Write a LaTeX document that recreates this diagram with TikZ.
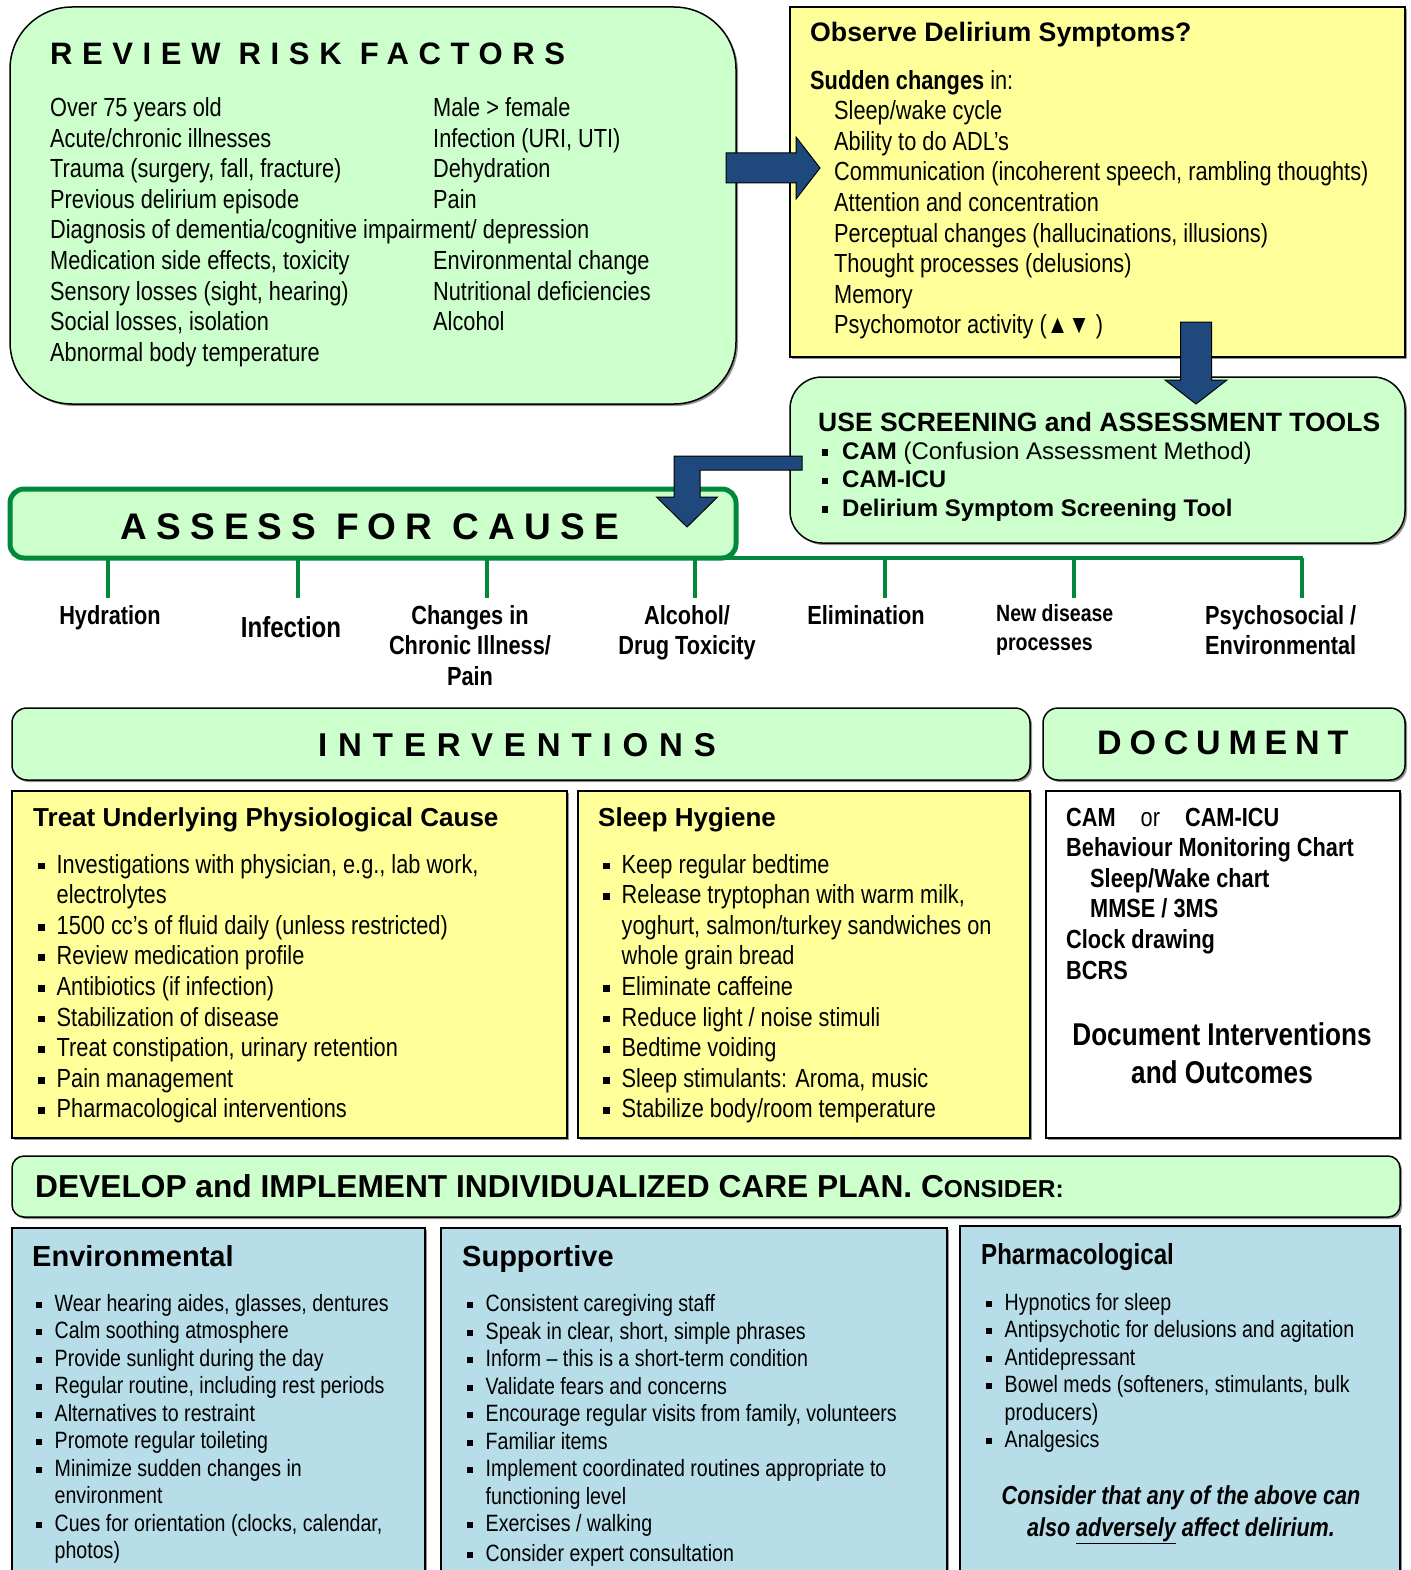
\documentclass[tikz,border=0pt]{standalone}
\usepackage{fontspec}
\setmainfont{Liberation Sans}
\newfontfamily\narrowfont[FakeStretch=0.83]{Liberation Sans}
\usetikzlibrary{calc,shadows}

\definecolor{riskgreen}{HTML}{CCFFCC}
\definecolor{noteyellow}{HTML}{FFFF99}
\definecolor{planblue}{HTML}{B7DDE8}
\definecolor{causegreen}{HTML}{00893D}
\definecolor{arrowblue}{HTML}{1F497D}

\newcommand\setfs[2]{\fontsize{#1pt}{#2pt}\selectfont}
\newcommand\bul[1][18.5pt]{\makebox[#1][l]{\raisebox{.14em}{\rule{.26em}{.26em}}}}
\newcommand\cont{\hspace*{18.5pt}}

\newcommand\blockright[2]{\draw[blockarrow] let \p1=(#1), \p2=(#2) in
  (\x1,\y1+15pt) -- (\x2-24pt,\y1+15pt) -- (\x2-24pt,\y1+31pt) -- (\x2,\y1)
  -- (\x2-24pt,\y1-31pt) -- (\x2-24pt,\y1-15pt) -- (\x1,\y1-15pt) -- cycle;}
\newcommand\blockdown[2]{\draw[blockarrow] let \p1=(#1), \p2=(#2) in
  (\x1-15.5pt,\y1) -- (\x1-15.5pt,\y2+24pt) -- (\x1-31pt,\y2+24pt) -- (\x1,\y2)
  -- (\x1+31pt,\y2+24pt) -- (\x1+15.5pt,\y2+24pt) -- (\x1+15.5pt,\y1) -- cycle;}

\tikzset{
  panel/.style={draw=black, line width=1.5pt, anchor=north west, inner sep=0pt, outer sep=0pt,
    drop shadow={shadow xshift=2pt, shadow yshift=-2pt, fill=black!60, opacity=.7}},
  greenpanel/.style={panel, fill=riskgreen},
  yellowpanel/.style={panel, fill=noteyellow},
  bluepanel/.style={panel, fill=planblue},
  whitepanel/.style={panel, fill=white},
  body/.style={anchor=base west, inner sep=0pt, align=left, font=\narrowfont\setfs{26.2}{30.6}},
  smallbody/.style={body, font=\narrowfont\setfs{23.6}{27.5}},
  head/.style={anchor=base west, inner sep=0pt, font=\bfseries\setfs{26}{30}},
  causelabel/.style={anchor=base, inner sep=0pt, align=center, font=\narrowfont\bfseries\setfs{26.2}{30.6}},
  causeline/.style={draw=causegreen, line width=4pt},
  blockarrow/.style={draw=black, line width=1pt, fill=arrowblue, line join=miter},
}

\begin{document}
\begin{tikzpicture}[x=1pt, y=-1pt]
\useasboundingbox (0,0) rectangle (1410,1570);

% risk factors (multi-line texts sit on the baseline of their last line)
\node[greenpanel, rounded corners=62pt, minimum width=726pt, minimum height=397pt] (risk) at (10,7) {};
\node[anchor=base west, inner sep=0pt, font=\bfseries\setfs{31}{36}\addfontfeatures{LetterSpace=31}] (risktitle) at (50,65) {REVIEW RISK FACTORS};
\node[body] (riskleft) at (50,361.3) {Over 75 years old\\ Acute/chronic illnesses\\ Trauma (surgery, fall, fracture)\\ Previous delirium episode\\
  Diagnosis of dementia/cognitive impairment/ depression\\ Medication side effects, toxicity\\ Sensory losses (sight, hearing)\\
  Social losses, isolation\\ Abnormal body temperature};
\node[body] (riskright) at (433,330.7) {Male > female\\ Infection (URI, UTI)\\ Dehydration\\ Pain\\ \mbox{}\\ Environmental change\\
  Nutritional deficiencies\\ Alcohol};

% symptoms
\node[yellowpanel, minimum width=615pt, minimum height=350pt] (observe) at (790,7) {};
\node[head, font=\bfseries\setfs{26.7}{30}] (observetitle) at (810,42) {Observe Delirium Symptoms?};
\node[body] (symptoms) at (810,333.8) {{\bfseries Sudden changes} in:\\ \hspace*{24pt}Sleep/wake cycle\\ \hspace*{24pt}Ability to do ADL’s\\
  \hspace*{24pt}Communication (incoherent speech, rambling thoughts)\\ \hspace*{24pt}Attention and concentration\\
  \hspace*{24pt}Perceptual changes (hallucinations, illusions)\\ \hspace*{24pt}Thought processes (delusions)\\
  \hspace*{24pt}Memory\\ \hspace*{24pt}Psychomotor activity (▲▼ )};

% screening tools
\node[greenpanel, rounded corners=32pt, minimum width=615pt, minimum height=166pt] (tools) at (790,377) {};
\node[head, font=\bfseries\setfs{26.5}{30}] (toolstitle) at (818,431) {USE SCREENING and ASSESSMENT TOOLS};
\node[body, font=\setfs{24}{28.5}] (toollist) at (822,516) {\bul[20pt]{\bfseries CAM} (Confusion Assessment Method)\\
  \bul[20pt]{\bfseries CAM-ICU}\\ \bul[20pt]{\bfseries Delirium Symptom Screening Tool}};

\coordinate (symin) at ($(risk.north east)+(-10,161)$);
\coordinate (symout) at ($(observe.north west)+(30,161)$);
\blockright{symin}{symout}
\coordinate (toolin) at ($(observe.south west)+(406,-35)$);
\coordinate (toolout) at ($(tools.north west)+(406,27)$);
\blockdown{toolin}{toolout}

% assess for cause
\node[anchor=north west, draw=causegreen, line width=5pt, fill=riskgreen, rounded corners=14pt, inner sep=0pt, outer sep=0pt,
  minimum width=726pt, minimum height=69pt] (assess) at (10,489) {};
\node[anchor=base west, inner sep=0pt, font=\bfseries\setfs{37}{40}\addfontfeatures{LetterSpace=25}] (assesstitle) at (120,539) {ASSESS FOR CAUSE};
\draw[causeline] (assess.south) -- ($(assess.south east)+(567,0)$) coordinate (barend);
\foreach \x in {108,298,487,695,885,1074,1302}
  \draw[causeline] (\x,558) -- (\x,598);
\coordinate (causein) at ($(tools.west)+(12,3)$);
\coordinate (causeout) at ($(assess.north east)+(-49,38)$);
\draw[blockarrow] let \p1=(causein), \p2=(causeout) in
  (\x1,\y1+7pt) -- (\x2-13pt,\y1+7pt) -- (\x2-13pt,\y2+30pt) -- (\x2-30.5pt,\y2+30pt) -- (\x2,\y2)
  -- (\x2+30.5pt,\y2+30pt) -- (\x2+13pt,\y2+30pt) -- (\x2+13pt,\y1-7pt) -- (\x1,\y1-7pt) -- cycle;

\node[causelabel] (hydration) at (110,624) {Hydration};
\node[causelabel, font=\narrowfont\bfseries\setfs{29}{32}] (infection) at (291,637) {Infection};
\node[causelabel] (chronic) at (470,685.2) {Changes in\\ Chronic Illness/\\ Pain};
\node[causelabel] (toxicity) at (687,654.6) {Alcohol/\\ Drug Toxicity};
\node[causelabel] (elimination) at (866,624) {Elimination};
\node[causelabel, anchor=base west, align=left, font=\narrowfont\bfseries\setfs{23.5}{29}] (newdisease) at (996,650) {New disease\\ processes};
\node[causelabel, anchor=base west, align=left] (psychosocial) at (1205,654.6) {Psychosocial /\\ Environmental};

% interventions and document
\node[greenpanel, rounded corners=15pt, minimum width=1018pt, minimum height=72pt] (interv) at (12,708) {};
\node[anchor=base west, inner sep=0pt, font=\bfseries\setfs{33}{36}\addfontfeatures{LetterSpace=33}] (intervtitle) at (318,756) {INTERVENTIONS};
\node[greenpanel, rounded corners=15pt, minimum width=362pt, minimum height=72pt] (docum) at (1043,708) {};
\node[anchor=base west, inner sep=0pt, font=\bfseries\setfs{34}{36}\addfontfeatures{LetterSpace=23}] (documtitle) at (1097,754) {DOCUMENT};

\node[yellowpanel, minimum width=555pt, minimum height=347pt] (treat) at (12,791) {};
\node[head] (treattitle) at (33,826) {Treat Underlying Physiological Cause};
\node[body] (treatlist) at (38,1117.8) {\bul Investigations with physician, e.g., lab work,\\ \cont electrolytes\\
  \bul 1500 cc’s of fluid daily (unless restricted)\\ \bul Review medication profile\\ \bul Antibiotics (if infection)\\
  \bul Stabilization of disease\\ \bul Treat constipation, urinary retention\\ \bul Pain management\\ \bul Pharmacological interventions};

\node[yellowpanel, minimum width=452pt, minimum height=347pt] (sleep) at (578,791) {};
\node[head] (sleeptitle) at (598,826) {Sleep Hygiene};
\node[body] (sleeplist) at (603,1117.8) {\bul Keep regular bedtime\\ \bul Release tryptophan with warm milk,\\
  \cont yoghurt, salmon/turkey sandwiches on\\ \cont whole grain bread\\ \bul Eliminate caffeine\\
  \bul Reduce light / noise stimuli\\ \bul Bedtime voiding\\ \bul Sleep stimulants: Aroma, music\\ \bul Stabilize body/room temperature};

\node[whitepanel, minimum width=354pt, minimum height=347pt] (docbox) at (1046,791) {};
\node[body, font=\narrowfont\bfseries\setfs{26.2}{30.6}] (doclist) at (1066,979) {CAM\hspace{25pt}{\mdseries or}\hspace{25pt}CAM-ICU\\
  Behaviour Monitoring Chart\\ \hspace*{24pt}Sleep/Wake chart\\ \hspace*{24pt}MMSE / 3MS\\ Clock drawing\\ BCRS};
\node[causelabel, font=\narrowfont\bfseries\setfs{31.5}{38}] (outcomes) at (1222,1083) {Document Interventions\\ and Outcomes};

% care plan
\node[greenpanel, rounded corners=12pt, minimum width=1388pt, minimum height=61pt] (plan) at (12,1156) {};
\node[head, font=\bfseries\setfs{31.7}{34}] (plantitle) at (35,1197) {DEVELOP and IMPLEMENT INDIVIDUALIZED CARE PLAN. C{\setfs{24.5}{30}ONSIDER:}};

\node[bluepanel, minimum width=413pt, minimum height=360pt] (environ) at (12,1228) {};
\node[head, font=\bfseries\setfs{29}{32}] (environtitle) at (32,1266) {Environmental};
\node[smallbody] (environlist) at (36,1558.5) {\bul Wear hearing aides, glasses, dentures\\ \bul Calm soothing atmosphere\\
  \bul Provide sunlight during the day\\ \bul Regular routine, including rest periods\\ \bul Alternatives to restraint\\
  \bul Promote regular toileting\\ \bul Minimize sudden changes in\\ \cont environment\\
  \bul Cues for orientation (clocks, calendar,\\ \cont photos)};

\node[bluepanel, minimum width=506pt, minimum height=360pt] (support) at (441,1228) {};
\node[head, font=\bfseries\setfs{29}{32}] (supporttitle) at (462,1266) {Supportive};
\node[smallbody] (supportlist) at (467,1561) {\bul Consistent caregiving staff\\ \bul Speak in clear, short, simple phrases\\
  \bul Inform – this is a short-term condition\\ \bul Validate fears and concerns\\
  \bul Encourage regular visits from family, volunteers\\ \bul Familiar items\\
  \bul Implement coordinated routines appropriate to\\ \cont functioning level\\ \bul Exercises / walking\\[2pt]
  \bul Consider expert consultation};

\node[bluepanel, minimum width=440pt, minimum height=362pt] (pharma) at (960,1226) {};
\node[head, font=\narrowfont\bfseries\setfs{29}{32}] (pharmatitle) at (981,1264) {Pharmacological};
\node[smallbody] (pharmalist) at (986,1447.5) {\bul Hypnotics for sleep\\ \bul Antipsychotic for delusions and agitation\\
  \bul Antidepressant\\ \bul Bowel meds (softeners, stimulants, bulk\\ \cont producers)\\ \bul Analgesics};
\node[causelabel, font=\narrowfont\bfseries\itshape\setfs{26}{32}] (caution) at (1181,1536) {Consider that any of the above can\\
  also \underline{adversely} affect delirium.};

\end{tikzpicture}
\end{document}
